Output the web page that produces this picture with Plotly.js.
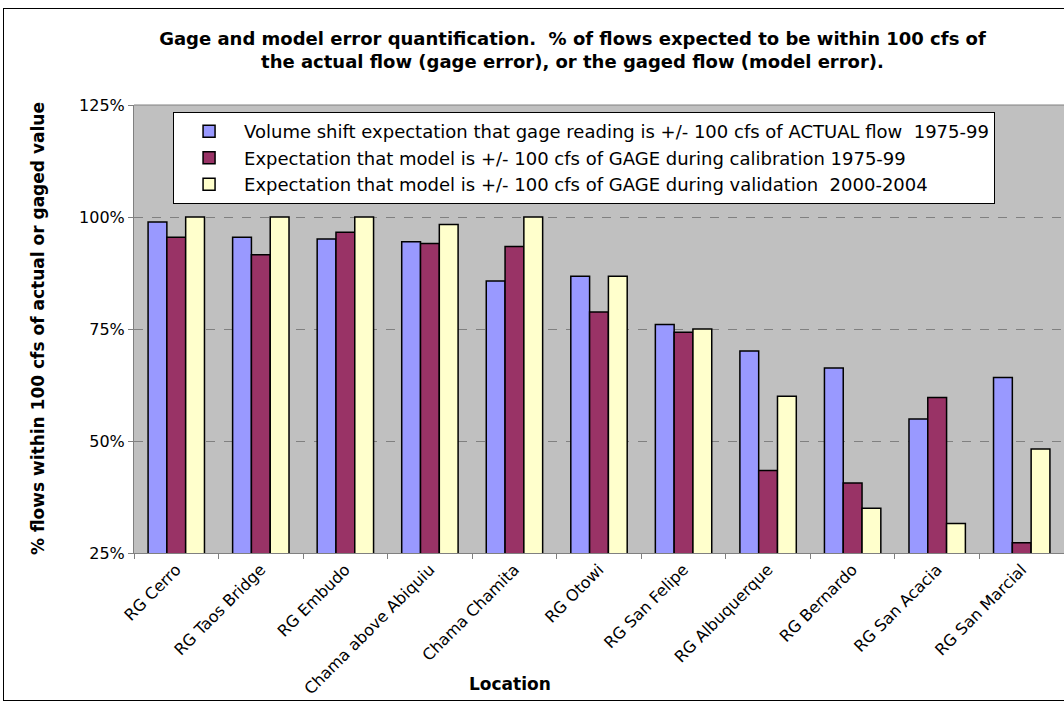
<!DOCTYPE html>
<html><head><meta charset="utf-8">
<script src="https://cdn.plot.ly/plotly-3.0.1.min.js"></script>
<style>
html,body{margin:0;padding:0;background:#fff;overflow:hidden;width:1064px;height:704px;}
#frame{position:absolute;left:3px;top:8px;width:1100px;height:691px;border:1px solid #000;pointer-events:none;}
</style>
</head><body>
<div id="chart" style="position:absolute;left:0;top:0;width:1064px;height:704px;"></div>
<div id="frame"></div>
<script>
const locations = ["RG Cerro", "RG Taos Bridge", "RG Embudo", "Chama above Abiquiu", "Chama Chamita",
  "RG Otowi", "RG San Felipe", "RG Albuquerque", "RG Bernardo", "RG San Acacia", "RG San Marcial"];
const seriesNames = [
  "Volume shift expectation that gage reading is +/- 100 cfs of ACTUAL flow  1975-99",
  "Expectation that model is +/- 100 cfs of GAGE during calibration 1975-99",
  "Expectation that model is +/- 100 cfs of GAGE during validation  2000-2004"
];
const gageActual = [98.9, 95.5, 95.1, 94.5, 85.7, 86.8, 76.0, 70.1, 66.3, 54.9, 64.2];
const modelCalibration = [95.5, 91.6, 96.6, 94.1, 93.4, 78.8, 74.3, 43.4, 40.6, 59.7, 27.3];
const modelValidation = [100, 100, 100, 98.3, 100, 86.8, 75.0, 60.0, 35.0, 31.6, 48.2];
const yTicks = [25, 50, 75, 100, 125];
const yTickText = ["25%", "50%", "75%", "100%", "125%"];

const colors = ["#9999FF", "#993366", "#FFFFCC"];
const values = [gageActual, modelCalibration, modelValidation];
const FONT = "DejaVu Sans, Liberation Sans, Arial, sans-serif";

const traces = values.map((v, i) => ({
  type: "bar", x: locations, y: v, name: seriesNames[i],
  marker: {color: colors[i], line: {color: "#000", width: 1.5}},
  hoverinfo: "skip"
}));

const layout = {
  width: 1064, height: 704,
  margin: {l: 134, r: 0, t: 105, b: 151},
  paper_bgcolor: "rgba(0,0,0,0)", plot_bgcolor: "#C0C0C0",
  barmode: "group", bargap: 0.333, bargroupgap: 0,
  font: {family: FONT, color: "#000"},
  showlegend: true,
  legend: {
    x: 0.042, y: 0.984, xanchor: "left", yanchor: "top",
    bgcolor: "#fff", bordercolor: "#000", borderwidth: 1,
    font: {family: FONT, size: 18, color: "#000"},
    traceorder: "normal", itemwidth: 60
  },
  xaxis: {
    type: "category", tickson: "boundaries", ticks: "outside", ticklen: 5, tickcolor: "#808080",
    tickangle: -45, tickfont: {family: FONT, size: 16},
    showline: true, linecolor: "#808080", linewidth: 1, showgrid: false, automargin: false
  },
  yaxis: {
    range: [25, 125], tickvals: yTicks, ticktext: yTickText, ticks: "outside", ticklen: 5, tickcolor: "#808080",
    tickfont: {family: FONT, size: 16},
    showline: true, linecolor: "#808080", linewidth: 1,
    showgrid: true, gridcolor: "#808080", griddash: "dash", gridwidth: 1,
    zeroline: false, automargin: false
  },
  title: {
    text: "Gage and model error quantification.  % of flows expected to be within 100 cfs of<br>the actual flow (gage error), or the gaged flow (model error).",
    font: {family: FONT, size: 18, weight: "bold", color: "#000"},
    xref: "paper", x: 0.4715, xanchor: "center",
    yref: "container", y: 1 - 45/704, yanchor: "middle"
  },
  annotations: [
    {text: "% flows within 100 cfs of actual or gaged value", textangle: -90,
     xref: "paper", yref: "paper", x: (38 - 134) / 930, y: 0.5, xanchor: "center", yanchor: "middle",
     showarrow: false, font: {family: FONT, size: 17, weight: "bold"}},
    {text: "Location", xref: "paper", yref: "paper", x: (510 - 134) / 930, y: (553 - 684) / 448,
     xanchor: "center", yanchor: "middle", showarrow: false, font: {family: FONT, size: 17, weight: "bold"}}
  ],
  shapes: [
    {type: "line", xref: "paper", yref: "paper", x0: 0, x1: 1, y0: 1, y1: 1, line: {color: "#808080", width: 1}}
  ]
};

Plotly.newPlot("chart", traces, layout, {displayModeBar: false, staticPlot: true});
</script>
</body></html>
